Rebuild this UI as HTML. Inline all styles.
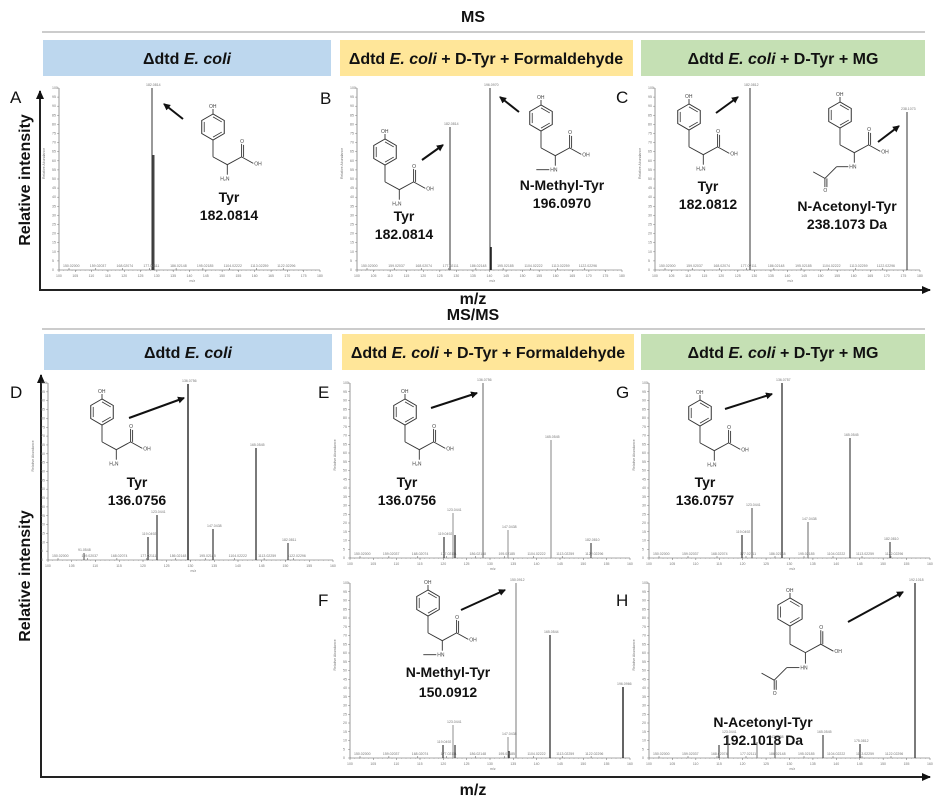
<!DOCTYPE html>
<html><head><meta charset="utf-8"><style>
html,body{margin:0;padding:0;background:#fff}
svg{display:block}
.hd{font:bold 16px "Liberation Sans",sans-serif;fill:#111}
.lab{font:bold 14px "Liberation Sans",sans-serif;fill:#111;text-anchor:middle}
.let{font:17px "Liberation Sans",sans-serif;fill:#111}
.tiny{font:3.5px "Liberation Sans",sans-serif;fill:#777}
.at{font:5px "Liberation Sans",sans-serif;fill:#444}
</style></head><body>
<svg id="s" width="946" height="801" viewBox="0 0 946 801" xmlns="http://www.w3.org/2000/svg">
<defs><marker id="ar" markerWidth="8" markerHeight="8" refX="6" refY="4" orient="auto" markerUnits="userSpaceOnUse"><path d="M0,0.5 L7,4 L0,7.5 z" fill="#111"/></marker>
<marker id="ab" markerWidth="10" markerHeight="10" refX="8" refY="5" orient="auto" markerUnits="userSpaceOnUse"><path d="M0,1 L9,5 L0,9 z" fill="#111"/></marker></defs>
<text x="473" y="22" class="hd" text-anchor="middle">MS</text>
<line x1="42" y1="32" x2="925" y2="32" stroke="#999" stroke-width="1"/>
<rect x="43" y="40" width="288" height="36" fill="#bdd7ee"/>
<rect x="340" y="40" width="293" height="36" fill="#ffe699"/>
<rect x="641" y="40" width="284" height="36" fill="#c5e0b4"/>
<text x="187" y="64" class="hd" text-anchor="middle">Δdtd <tspan font-style="italic">E. coli</tspan></text>
<text x="486" y="64" class="hd" text-anchor="middle">Δdtd <tspan font-style="italic">E. coli</tspan> + D-Tyr + Formaldehyde</text>
<text x="783" y="64" class="hd" text-anchor="middle">Δdtd <tspan font-style="italic">E. coli</tspan> + D-Tyr + MG</text>
<text x="473" y="304" class="hd" text-anchor="middle" font-size="13">m/z</text>
<text x="473" y="320" class="hd" text-anchor="middle">MS/MS</text>
<line x1="42" y1="329" x2="925" y2="329" stroke="#999" stroke-width="1"/>
<rect x="44" y="334" width="288" height="36" fill="#bdd7ee"/>
<rect x="342" y="334" width="292" height="36" fill="#ffe699"/>
<rect x="641" y="334" width="284" height="36" fill="#c5e0b4"/>
<text x="188" y="358" class="hd" text-anchor="middle">Δdtd <tspan font-style="italic">E. coli</tspan></text>
<text x="488" y="358" class="hd" text-anchor="middle">Δdtd <tspan font-style="italic">E. coli</tspan> + D-Tyr + Formaldehyde</text>
<text x="783" y="358" class="hd" text-anchor="middle">Δdtd <tspan font-style="italic">E. coli</tspan> + D-Tyr + MG</text>
<text x="473" y="795" class="hd" text-anchor="middle" font-size="13">m/z</text>
<!-- big axes -->
<line x1="40" y1="290" x2="40" y2="91" stroke="#222" stroke-width="2" marker-end="url(#ab)"/>
<line x1="39" y1="290" x2="930" y2="290" stroke="#222" stroke-width="2" marker-end="url(#ab)"/>
<line x1="41" y1="777" x2="41" y2="375" stroke="#222" stroke-width="2" marker-end="url(#ab)"/>
<line x1="40" y1="777" x2="930" y2="777" stroke="#222" stroke-width="2" marker-end="url(#ab)"/>
<text class="hd" font-size="14" transform="translate(30,180) rotate(-90)" text-anchor="middle">Relative intensity</text>
<text class="hd" font-size="14" transform="translate(30,576) rotate(-90)" text-anchor="middle">Relative intensity</text>
<text x="10" y="103" class="let">A</text><text x="320" y="104" class="let">B</text><text x="616" y="103" class="let">C</text>
<text x="10" y="398" class="let">D</text><text x="318" y="398" class="let">E</text><text x="616" y="398" class="let">G</text>
<text x="318" y="606" class="let">F</text><text x="616" y="606" class="let">H</text>
<text x="229" y="202" class="lab">Tyr</text><text x="229" y="220" class="lab">182.0814</text>
<text x="404" y="221" class="lab">Tyr</text><text x="404" y="239" class="lab">182.0814</text>
<text x="562" y="190" class="lab">N-Methyl-Tyr</text><text x="562" y="208" class="lab">196.0970</text>
<text x="708" y="191" class="lab">Tyr</text><text x="708" y="209" class="lab">182.0812</text>
<text x="847" y="211" class="lab">N-Acetonyl-Tyr</text><text x="847" y="229" class="lab">238.1073 Da</text>
<text x="137" y="487" class="lab">Tyr</text><text x="137" y="505" class="lab">136.0756</text>
<text x="407" y="487" class="lab">Tyr</text><text x="407" y="505" class="lab">136.0756</text>
<text x="705" y="487" class="lab">Tyr</text><text x="705" y="505" class="lab">136.0757</text>
<text x="448" y="677" class="lab">N-Methyl-Tyr</text><text x="448" y="697" class="lab">150.0912</text>
<text x="763" y="727" class="lab">N-Acetonyl-Tyr</text><text x="763" y="745" class="lab">192.1018 Da</text>
<g stroke="#111" stroke-width="2">
<line x1="183" y1="119" x2="164" y2="104" marker-end="url(#ar)"/>
<line x1="422" y1="160" x2="443" y2="145" marker-end="url(#ar)"/>
<line x1="519" y1="112" x2="500" y2="97" marker-end="url(#ar)"/>
<line x1="716" y1="113" x2="738" y2="97" marker-end="url(#ar)"/>
<line x1="878" y1="142" x2="899" y2="126" marker-end="url(#ar)"/>
<line x1="129" y1="418" x2="184" y2="398" marker-end="url(#ar)"/>
<line x1="431" y1="408" x2="477" y2="393" marker-end="url(#ar)"/>
<line x1="725" y1="409" x2="772" y2="394" marker-end="url(#ar)"/>
<line x1="461" y1="610" x2="505" y2="590" marker-end="url(#ar)"/>
<line x1="848" y1="622" x2="903" y2="592" marker-end="url(#ar)"/>
</g>
<g id="dyn"></g>
</svg>
<script>
var NS="http://www.w3.org/2000/svg",G=document.getElementById("dyn");
function el(t,a,txt){var e=document.createElementNS(NS,t);for(var k in a)e.setAttribute(k,a[k]);if(txt)e.textContent=txt;G.appendChild(e);return e;}
function ln(x1,y1,x2,y2,c,w){el("line",{x1:x1,y1:y1,x2:x2,y2:y2,stroke:c||"#333","stroke-width":w||0.6});}
function spec(x0,x1,top,base,peaks,n){
 ln(x0,top,x0,base,"#555",0.6);ln(x0,base,x1,base,"#555",0.6);
 for(var i=0;i<=20;i++){var y=base-(base-top)*i/20;ln(x0-2,y,x0,y,"#666",0.4);el("text",{x:x0-7,y:y+1,class:"tiny"},String(i*5));}
 for(var i=0;i<=n;i++){var x=x0+(x1-x0)*i/n;ln(x,base,x,base+2,"#666",0.5);el("text",{x:x-3,y:base+7,class:"tiny"},String(100+i*5));}
 for(var i=0;i<60;i++){var x=x0+(x1-x0)*i/60;ln(x,base,x,base+1,"#888",0.3);}
 el("text",{x:x0-14,y:(top+base)/2,class:"tiny",transform:"rotate(-90 "+(x0-14)+" "+((top+base)/2)+")"},"Relative Abundance");
 el("text",{x:(x0+x1)/2,y:base+12,class:"tiny"},"m/z");
 peaks.forEach(function(p){ln(p[0],p[1],p[0],base,p[2]||"#222",p[3]||1);el("text",{x:p[0]-6,y:p[1]-2,class:"tiny"},p[4]||"");});
 for(var i=0;i<9;i++){var x=x0+10+(x1-x0-20)*i/9;ln(x,base-2,x,base,"#555",0.5);el("text",{x:x-6,y:base-3,class:"tiny"},"1"+(50+i*9)+".0"+(2000+i*37));}
}
function mol(cx,cy,r,type){
 var pts=[];for(var i=0;i<6;i++){var a=Math.PI/2+i*Math.PI/3;pts.push([cx+r*Math.cos(a),cy-r*Math.sin(a)]);}
 el("polygon",{points:pts.map(function(p){return p.join(",")}).join(" "),fill:"none",stroke:"#333","stroke-width":1});
 // inner lines
 var ir=r*0.78;[[1,2],[3,4],[5,0]].forEach(function(q){var a1=Math.PI/2+q[0]*Math.PI/3,a2=Math.PI/2+q[1]*Math.PI/3;ln(cx+ir*Math.cos(a1),cy-ir*Math.sin(a1),cx+ir*Math.cos(a2),cy-ir*Math.sin(a2),"#333",0.8);});
 ln(cx,cy-r,cx,cy-r-5,"#333",0.9);
 el("text",{x:cx-4,y:cy-r-6,class:"at"},"OH");
 var c1=[cx,cy+2.3*r],ca=[cx+1.1*r,cy+2.9*r],cc=[cx+2.2*r,cy+2.3*r],o=[cx+2.2*r,cy+1.3*r],oh=[cx+3.1*r,cy+2.8*r],n=[cx+1.1*r,cy+3.9*r];
 ln(cx,cy+r,c1[0],c1[1],"#333",0.9);ln(c1[0],c1[1],ca[0],ca[1],"#333",0.9);ln(ca[0],ca[1],cc[0],cc[1],"#333",0.9);
 ln(cc[0],cc[1],o[0],o[1],"#333",0.9);ln(cc[0]+2,cc[1],o[0]+2,o[1]+1,"#333",0.9);
 el("text",{x:o[0]-1.5,y:o[1]-1,class:"at"},"O");
 ln(cc[0],cc[1],oh[0],oh[1],"#333",0.9);el("text",{x:oh[0]+1,y:oh[1]+2,class:"at"},"OH");
 ln(ca[0],ca[1],n[0],n[1]-3,"#333",0.9);
 if(type==0){el("text",{x:n[0]-7,y:n[1]+3,class:"at"},"H₂N");}
 else{el("text",{x:n[0]-5,y:n[1]+3,class:"at"},"HN");
  if(type==1){ln(n[0]-6,n[1]+1,n[0]-6-r,n[1]+1,"#333",0.9);}
  else{var m=[n[0]-6-0.9*r,n[1]+1],k=[m[0]-0.9*r,m[1]+0.9*r],ox=[k[0],k[1]+r*0.9],me=[k[0]-0.9*r,k[1]-0.5*r];
   ln(n[0]-6,n[1]+1,m[0],m[1],"#333",0.9);ln(m[0],m[1],k[0],k[1],"#333",0.9);ln(k[0],k[1],ox[0],ox[1]-3,"#333",0.9);ln(k[0]+2,k[1],ox[0]+2,ox[1]-3,"#333",0.9);
   el("text",{x:ox[0]-1.5,y:ox[1]+2,class:"at"},"O");ln(k[0],k[1],me[0],me[1],"#333",0.9);}
 }
}
// MS panels
spec(59,320,88,270,[[152,88,"#333",1,"182.0814"],[153.5,155,"#444",2]],16);
spec(357,622,88,270,[[450,127,"#333",1,"182.0814"],[490,88,"#333",1,"196.0970"],[491,247,"#222",1.6]],16);
spec(655,920,88,270,[[750,88,"#333",1,"182.0812"],[907,112,"#333",1,"238.1073"]],16);
// MS/MS
spec(48,333,383,560,[[188,384,"#222",1.4,"136.0756"],[256,448,"#222",1.2,"165.0545"],[157,515,"#222",1.1,"123.0441"],[148,537,"#222",1.1,"119.0492"],[213,529,"#222",1.1,"147.0438"],[288,543,"#222",1,"182.0811"],[84,553,"#222",0.8,"91.0548"]],12);
spec(350,630,383,558,[[483,383,"#888",1.3,"136.0756"],[551,440,"#999",1.2,"165.0545"],[453,513,"#999",1.1,"123.0441"],[444,537,"#222",1.1,"119.0492"],[455,535,"#222",1.2],[508,530,"#999",1.1,"147.0438"],[591,543,"#222",1,"182.0810"]],12);
spec(649,930,383,558,[[782,383,"#333",1.3,"136.0757"],[850,438,"#444",1.2,"165.0545"],[752,508,"#555",1.1,"123.0441"],[742,535,"#222",1.1,"119.0492"],[808,522,"#777",1.1,"147.0438"],[890,542,"#222",1,"182.0810"]],12);
spec(350,630,583,758,[[516,583,"#999",1.3,"150.0912"],[550,635,"#222",1.2,"165.0544"],[623,687,"#222",1.4,"196.0966"],[453,725,"#999",1.1,"123.0441"],[443,745,"#222",1.1,"119.0492"],[455,745,"#222",1.1],[508,737,"#999",1.1,"147.0438"],[509,751,"#222",1.3]],12);
spec(649,930,583,758,[[915,583,"#333",1.3,"192.1018"],[823,735,"#444",1.2,"165.0545"],[728,735,"#555",1.1,"123.0441"],[719,745,"#222",1],[775,740,"#555",1,"147.0438"],[757,742,"#777",1],[860,744,"#333",1.2,"175.0812"]],12);
// molecules
mol(213,127,13,0);mol(385,152,13,0);mol(541,118,13,1);mol(689,117,13,0);mol(840,115,13,2);
mol(102,412,13,0);mol(405,412,13,0);mol(700,413,13,0);mol(428,603,13,1);mol(790,612,14,2);
</script>
</body></html>
